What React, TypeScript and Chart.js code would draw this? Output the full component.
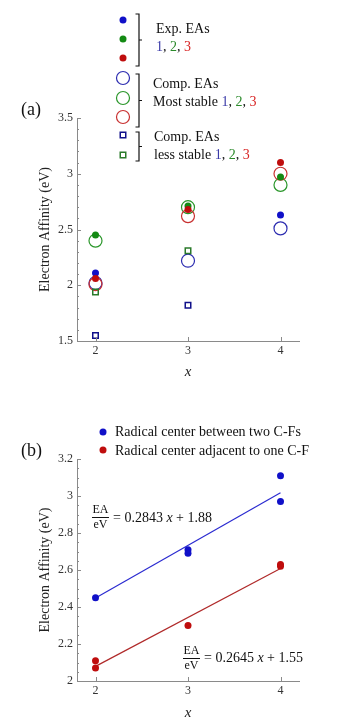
import React, { useEffect, useRef } from "react";
import { Chart, registerables } from "chart.js";
Chart.register(...registerables);

const FAMILY = "'Liberation Serif', 'Times New Roman', serif";

// ---- Panel (a) data ----
const X_VALUES = [2, 3, 4];
const EXP_1 = [2.11, null, 2.63];
const EXP_2 = [2.45, 2.71, 2.97];
const EXP_3 = [2.06, 2.68, 3.1];
const STABLE_1 = [2.02, 2.22, 2.51];
const STABLE_2 = [2.4, 2.7, 2.9];
const STABLE_3 = [2.01, 2.62, 3.0];
const LESS_X = [2, 3];
const LESS_1 = [1.55, 1.82];
const LESS_2 = [1.94, 2.31];
const Y_TICKS_A = [1.5, 2, 2.5, 3, 3.5];

// ---- Panel (b) data ----
const B_BLUE_X = [2, 3, 3, 4, 4];
const B_BLUE_Y = [2.45, 2.71, 2.69, 3.11, 2.97];
const B_RED_X = [2, 2, 3, 4, 4];
const B_RED_Y = [2.11, 2.07, 2.3, 2.63, 2.62];
const FIT_X = [2, 4];
const FIT_BLUE = [2.4486, 3.0172];
const FIT_RED = [2.079, 2.608];
const Y_TICKS_B = [2, 2.2, 2.4, 2.6, 2.8, 3, 3.2];
const X_TICKS = [2, 3, 4];

const BLUE = "#1010c8";
const GREEN = "#138a13";
const RED = "#bf0d0d";
const BLUE_O = "#2c2cb0";
const GREEN_O = "#2a962a";
const RED_O = "#c83030";
const SQ_BLUE = "#10108a";
const SQ_GREEN = "#2a7a2a";
const TXT_BLUE = "#3a3aa8";
const TXT_GREEN = "#2a8a2a";
const TXT_RED = "#d82424";

const pts = (xs: number[], ys: (number | null)[]) =>
  xs.map((x, i) => ({ x, y: ys[i] })).filter((p) => p.y !== null);

const fmt = (v: any) => String(Math.round(Number(v) * 10) / 10);

function segs(ctx: CanvasRenderingContext2D, x: number, y: number, parts: [string, string][], font: string) {
  ctx.font = font;
  ctx.textBaseline = "middle";
  ctx.textAlign = "left";
  let cx = x;
  for (const [t, c] of parts) {
    ctx.fillStyle = c;
    ctx.fillText(t, cx, y);
    cx += ctx.measureText(t).width;
  }
}

function bracket(ctx: CanvasRenderingContext2D, x: number, y1: number, y2: number) {
  ctx.save();
  ctx.strokeStyle = "#111";
  ctx.lineWidth = 1.2;
  ctx.beginPath();
  ctx.moveTo(x - 3.5, y1);
  ctx.lineTo(x, y1);
  ctx.lineTo(x, y2);
  ctx.lineTo(x - 3.5, y2);
  const m = (y1 + y2) / 2;
  ctx.moveTo(x, m);
  ctx.lineTo(x + 3, m);
  ctx.stroke();
  ctx.restore();
}

function dot(ctx: CanvasRenderingContext2D, x: number, y: number, r: number, color: string) {
  ctx.beginPath();
  ctx.arc(x, y, r, 0, Math.PI * 2);
  ctx.fillStyle = color;
  ctx.fill();
}
function ring(ctx: CanvasRenderingContext2D, x: number, y: number, r: number, color: string) {
  ctx.beginPath();
  ctx.arc(x, y, r, 0, Math.PI * 2);
  ctx.strokeStyle = color;
  ctx.lineWidth = 1.2;
  ctx.stroke();
}
function square(ctx: CanvasRenderingContext2D, x: number, y: number, s: number, color: string) {
  ctx.strokeStyle = color;
  ctx.lineWidth = 1.5;
  ctx.strokeRect(x - s / 2, y - s / 2, s, s);
}

function inwardTicks(major: number[], minorStep: number, xMajor: number[]) {
  return {
    id: "inwardTicks",
    afterDraw(chart: any) {
      const { ctx, scales, chartArea } = chart;
      const xs = scales.x;
      const ys = scales.y;
      ctx.save();
      ctx.strokeStyle = "#8a8a8a";
      ctx.lineWidth = 1;
      ctx.beginPath();
      const lo = major[0];
      const hi = major[major.length - 1];
      const n = Math.round((hi - lo) / minorStep);
      for (let k = 0; k <= n; k++) {
        const v = lo + k * minorStep;
        const isMajor = major.some((m) => Math.abs(m - v) < 1e-6);
        const py = Math.round(ys.getPixelForValue(v)) + 0.5;
        ctx.moveTo(chartArea.left, py);
        ctx.lineTo(chartArea.left + (isMajor ? 4 : 2), py);
      }
      for (const v of xMajor) {
        const px = Math.round(xs.getPixelForValue(v)) + 0.5;
        ctx.moveTo(px, chartArea.bottom);
        ctx.lineTo(px, chartArea.bottom - 4);
      }
      ctx.stroke();
      ctx.restore();
    },
  };
}

const legendA = {
  id: "legendA",
  afterDraw(chart: any) {
    const ctx = chart.ctx as CanvasRenderingContext2D;
    ctx.save();
    const mx = 123;
    dot(ctx, mx, 20, 3.5, BLUE);
    dot(ctx, mx, 39, 3.5, GREEN);
    dot(ctx, mx, 58, 3.5, RED);
    ring(ctx, mx, 78, 6.5, BLUE_O);
    ring(ctx, mx, 98, 6.5, GREEN_O);
    ring(ctx, mx, 117, 6.5, RED_O);
    square(ctx, mx, 135, 5.5, SQ_BLUE);
    square(ctx, mx, 155, 5.5, SQ_GREEN);
    bracket(ctx, 139, 14, 66);
    bracket(ctx, 139, 74, 127);
    bracket(ctx, 139, 132, 161);
    const f = `14px ${FAMILY}`;
    const k = "#111";
    segs(ctx, 156, 29, [["Exp. EAs", k]], f);
    segs(ctx, 156, 47, [["1", TXT_BLUE], [", ", k], ["2", TXT_GREEN], [", ", k], ["3", TXT_RED]], f);
    segs(ctx, 153, 84, [["Comp. EAs", k]], f);
    segs(ctx, 153, 102, [["Most stable ", k], ["1", TXT_BLUE], [", ", k], ["2", TXT_GREEN], [", ", k], ["3", TXT_RED]], f);
    segs(ctx, 154, 137, [["Comp. EAs", k]], f);
    segs(ctx, 154, 155, [["less stable ", k], ["1", TXT_BLUE], [", ", k], ["2", TXT_GREEN], [", ", k], ["3", TXT_RED]], f);
    segs(ctx, 21, 110, [["(a)", k]], `18px ${FAMILY}`);
    ctx.restore();
  },
};

function drawEq(ctx: CanvasRenderingContext2D, x: number, y: number, slope: string, icpt: string) {
  const k = "#111";
  ctx.font = `12px ${FAMILY}`;
  ctx.textAlign = "center";
  ctx.textBaseline = "middle";
  ctx.fillStyle = k;
  const w = Math.max(ctx.measureText("EA").width, ctx.measureText("eV").width) + 1;
  ctx.fillText("EA", x + w / 2, y - 7);
  ctx.fillText("eV", x + w / 2, y + 8);
  ctx.strokeStyle = k;
  ctx.lineWidth = 1;
  ctx.beginPath();
  ctx.moveTo(x, Math.round(y) + 0.5);
  ctx.lineTo(x + w, Math.round(y) + 0.5);
  ctx.stroke();
  let cx = x + w + 4;
  ctx.textAlign = "left";
  ctx.font = `14px ${FAMILY}`;
  const a = `= ${slope} `;
  ctx.fillText(a, cx, y + 1);
  cx += ctx.measureText(a).width;
  ctx.font = `italic 14px ${FAMILY}`;
  ctx.fillText("x", cx, y + 1);
  cx += ctx.measureText("x").width;
  ctx.font = `14px ${FAMILY}`;
  ctx.fillText(` + ${icpt}`, cx, y + 1);
}

const legendB = {
  id: "legendB",
  afterDraw(chart: any) {
    const ctx = chart.ctx as CanvasRenderingContext2D;
    const { x: xs, y: ys } = chart.scales;
    ctx.save();
    const k = "#111";
    dot(ctx, 103, 42, 3.5, BLUE);
    dot(ctx, 103, 60, 3.5, RED);
    segs(ctx, 115, 42, [["Radical center between two C-Fs", k]], `14px ${FAMILY}`);
    segs(ctx, 115, 61, [["Radical center adjacent to one C-F", k]], `14px ${FAMILY}`);
    segs(ctx, 21, 61, [["(b)", k]], `18px ${FAMILY}`);
    drawEq(ctx, xs.getPixelForValue(1.962), ys.getPixelForValue(2.886), "0.2843", "1.88");
    drawEq(ctx, xs.getPixelForValue(2.946), ys.getPixelForValue(2.126), "0.2645", "1.55");
    ctx.restore();
  },
};

function axes(xMin: number, xMax: number, yMin: number, yMax: number, yTicks: number[], xHeight: number, xTitlePad: number) {
  return {
    x: {
      type: "linear",
      min: xMin,
      max: xMax,
      afterFit: (s: any) => {
        s.height = xHeight;
      },
      afterBuildTicks: (s: any) => {
        s.ticks = X_TICKS.map((v) => ({ value: v }));
      },
      grid: { display: false, drawTicks: false, tickLength: 0 },
      border: { display: true, color: "#8a8a8a", width: 1 },
      ticks: { font: { size: 12, family: FAMILY }, color: "#333", padding: 3, maxRotation: 0, callback: fmt },
      title: {
        display: true,
        text: "x",
        color: "#222",
        font: { size: 15, style: "italic", family: FAMILY },
        padding: { top: 0, bottom: xTitlePad },
      },
    },
    y: {
      type: "linear",
      min: yMin,
      max: yMax,
      afterFit: (s: any) => {
        s.width = 77;
      },
      afterBuildTicks: (s: any) => {
        s.ticks = yTicks.map((v) => ({ value: v }));
      },
      grid: { display: false, drawTicks: false, tickLength: 0 },
      border: { display: true, color: "#8a8a8a", width: 1 },
      ticks: { font: { size: 12, family: FAMILY }, color: "#333", padding: 4, callback: fmt },
      title: {
        display: true,
        text: "Electron Affinity (eV)",
        color: "#222",
        font: { size: 14, family: FAMILY },
        padding: { top: 37, bottom: 0 },
      },
    },
  };
}

export default function App() {
  const refA = useRef<HTMLCanvasElement>(null);
  const refB = useRef<HTMLCanvasElement>(null);

  useEffect(() => {
    const filled = (data: any, color: string) => ({
      data,
      pointStyle: "circle",
      pointRadius: 3.5,
      backgroundColor: color,
      borderColor: color,
      borderWidth: 0,
      showLine: false,
    });
    const open = (data: any, color: string) => ({
      data,
      pointStyle: "circle",
      pointRadius: 6.5,
      backgroundColor: "rgba(0,0,0,0)",
      borderColor: color,
      borderWidth: 1.2,
      showLine: false,
    });
    const sq = (data: any, color: string) => ({
      data,
      pointStyle: "rect",
      pointRadius: 3.9,
      backgroundColor: "rgba(0,0,0,0)",
      borderColor: color,
      borderWidth: 1.5,
      showLine: false,
    });

    const chartA = new Chart(refA.current!, {
      type: "scatter",
      data: {
        datasets: [
          filled(pts(X_VALUES, EXP_3), RED),
          filled(pts(X_VALUES, EXP_2), GREEN),
          filled(pts(X_VALUES, EXP_1), BLUE),
          sq(pts(LESS_X, LESS_2), SQ_GREEN),
          sq(pts(LESS_X, LESS_1), SQ_BLUE),
          open(pts(X_VALUES, STABLE_3), RED_O),
          open(pts(X_VALUES, STABLE_2), GREEN_O),
          open(pts(X_VALUES, STABLE_1), BLUE_O),
        ] as any,
      },
      options: {
        responsive: false,
        animation: false,
        events: [],
        layout: { padding: { left: 0, right: 64, top: 118, bottom: 8 } },
        plugins: { legend: { display: false }, tooltip: { enabled: false } },
        scales: axes(1.8, 4.2, 1.5, 3.5, Y_TICKS_A, 41, 1) as any,
      },
      plugins: [inwardTicks(Y_TICKS_A, 0.1, X_TICKS), legendA],
    });

    const chartB = new Chart(refB.current!, {
      type: "scatter",
      data: {
        datasets: [
          filled(pts(B_BLUE_X, B_BLUE_Y), BLUE),
          filled(pts(B_RED_X, B_RED_Y), RED),
          {
            data: pts(FIT_X, FIT_BLUE),
            showLine: true,
            pointRadius: 0,
            borderColor: "#2a2ad0",
            borderWidth: 1.2,
            fill: false,
          },
          {
            data: pts(FIT_X, FIT_RED),
            showLine: true,
            pointRadius: 0,
            borderColor: "#b02a2a",
            borderWidth: 1.2,
            fill: false,
          },
        ] as any,
      },
      options: {
        responsive: false,
        animation: false,
        events: [],
        layout: { padding: { left: 0, right: 64, top: 69, bottom: 2 } },
        plugins: { legend: { display: false }, tooltip: { enabled: false } },
        scales: axes(1.8, 4.2, 2.0, 3.2, Y_TICKS_B, 43, 2) as any,
      },
      plugins: [inwardTicks(Y_TICKS_B, 0.05, X_TICKS), legendB],
    });

    return () => {
      chartA.destroy();
      chartB.destroy();
    };
  }, []);

  return (
    <div style={{ position: "absolute", left: 0, top: 0, width: 363, height: 726, background: "#fff" }}>
      <canvas ref={refA} width={363} height={390} style={{ position: "absolute", left: 0, top: 0, width: 363, height: 390 }} />
      <canvas ref={refB} width={363} height={336} style={{ position: "absolute", left: 0, top: 390, width: 363, height: 336 }} />
    </div>
  );
}
